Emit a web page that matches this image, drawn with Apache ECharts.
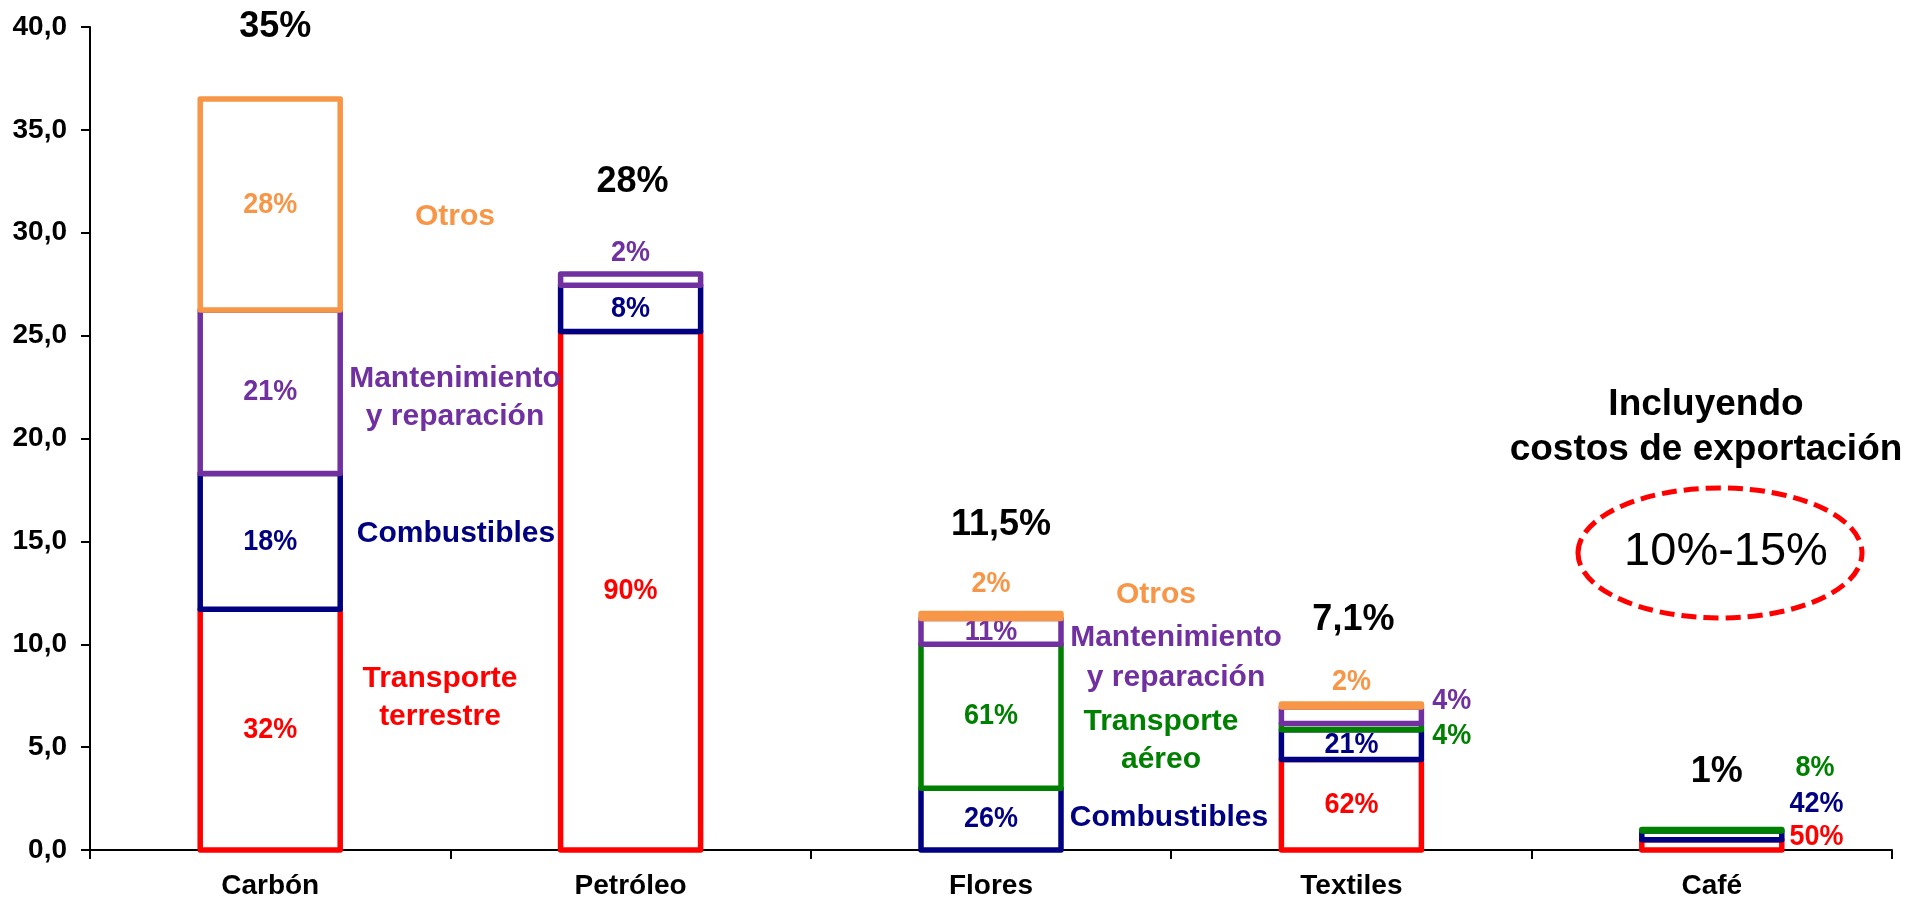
<!DOCTYPE html>
<html>
<head>
<meta charset="utf-8">
<title>Costos logísticos por producto</title>
<script src="https://cdn.jsdelivr.net/npm/echarts@6/dist/echarts.min.js"></script>
<style>
  html, body { margin: 0; padding: 0; background: #ffffff; }
  #chart { width: 1909px; height: 900px; }
</style>
</head>
<body>
<div id="chart"></div>
<script>
// Categories along the x axis
const categories = ['Carbón', 'Petróleo', 'Flores', 'Textiles', 'Café'];

// Stacked components (cost, % of product value); null = component absent
const transporteTerrestre = [11.7, 25.2, null, 4.4, 0.5];
const combustibles        = [6.6, 2.25, 3.0, 1.45, 0.42];
const transporteAereo     = [null, null, 7.0, 0.3, 0.08];
const mantenimiento       = [7.95, 0.55, 1.25, 0.8, null];
const otros               = [10.25, null, 0.25, 0.15, null];

// Share of each component within its product
const terrestreShare     = ['32%', '90%', null, '62%', '50%'];
const combustiblesShare  = ['18%', '8%', '26%', '21%', '42%'];
const aereoShare         = [null, null, '61%', '4%', '8%'];
const mantenimientoShare = ['21%', '2%', '11%', '4%', null];
const otrosShare         = ['28%', null, '2%', '2%', null];

// Headline figure above each bar
const totalLabels = ['35%', '28%', '11,5%', '7,1%', '1%'];

// Y axis scale
const yMin = 0, yMax = 40, yStep = 5;

// ---- styling ----
const FONT = '"Liberation Sans", Arial, sans-serif';
const RED = '#FF0000', NAVY = '#000080', GREEN = '#008000', PURPLE = '#7030A0', ORANGE = '#F79646';
const BAR_W = 140;
const BORDER = 5.5;
const SHARE_FONT = 'bold 27px ' + FONT;
const SHARE_STRETCH = 1.1;

// where each share label sits: inside the box, to its right, or above it
const IN = { pos: 'inside' };
const placeTerrestre = [IN, IN, null, IN, { pos: 'right', dist: 5, dy: -8 }];
const placeCombust   = [IN, IN, IN, IN, { pos: 'right', dist: 5, dy: -32 }];
const placeAereo     = [null, null, IN, { pos: 'right', dist: 8, dy: 9 }, { pos: 'right', dist: 11, dy: -62 }];
const placeMant      = [IN, { pos: 'top', dist: 3 }, IN, { pos: 'right', dist: 8, dy: -14 }, null];
const placeOtros     = [IN, null, { pos: 'top', dist: 12 }, { pos: 'top', dist: 5 }, null];
const totalOffsets   = [[5, -72], [2, -92], [10, -88], [2, -84], [5, -57]];

const components = [
  { name: 'Transporte terrestre', values: transporteTerrestre, shares: terrestreShare, color: RED, places: placeTerrestre },
  { name: 'Combustibles', values: combustibles, shares: combustiblesShare, color: NAVY, places: placeCombust },
  { name: 'Transporte aéreo', values: transporteAereo, shares: aereoShare, color: GREEN, places: placeAereo },
  { name: 'Mantenimiento y reparación', values: mantenimiento, shares: mantenimientoShare, color: PURPLE, places: placeMant },
  { name: 'Otros', values: otros, shares: otrosShare, color: ORANGE, places: placeOtros }
];

// running base of the stack for every category
const base = categories.map(() => 0);
const segmentSeries = components.map(comp => {
  const data = [];
  comp.values.forEach((v, i) => {
    if (v == null) return;
    data.push({ value: [i, base[i], base[i] + v], share: comp.shares[i], place: comp.places[i] });
    base[i] += v;
  });
  return {
    name: comp.name,
    type: 'custom',
    encode: { x: 0, y: [1, 2] },
    silent: true,
    data: data,
    renderItem: (params, api) => {
      const item = data[params.dataIndex];
      const i = api.value(0);
      const lo = api.coord([i, api.value(1)]);
      const hi = api.coord([i, api.value(2)]);
      const x0 = lo[0] - BAR_W / 2, x1 = lo[0] + BAR_W / 2;
      const children = [{
        type: 'rect',
        shape: { x: x0, y: hi[1], width: BAR_W, height: lo[1] - hi[1] },
        style: { fill: '#ffffff', stroke: comp.color, lineWidth: BORDER, lineJoin: 'round' }
      }];
      const p = item.place;
      if (item.share && p) {
        let tx, ty, align = 'center', valign = 'middle';
        if (p.pos === 'inside') {
          tx = lo[0]; ty = (lo[1] + hi[1]) / 2;
        } else if (p.pos === 'right') {
          tx = x1 + BORDER / 2 + p.dist; ty = (lo[1] + hi[1]) / 2 + p.dy; align = 'left';
        } else {
          tx = lo[0]; ty = hi[1] - BORDER / 2 - p.dist; valign = 'bottom';
        }
        children.push({
          type: 'text', x: tx, y: ty, scaleY: SHARE_STRETCH,
          style: { text: item.share, fill: comp.color, font: SHARE_FONT, textAlign: align, textVerticalAlign: valign }
        });
      }
      return { type: 'group', children: children };
    }
  };
});

// Headline figures anchored on top of each stack
const totalSeries = {
  name: 'Total',
  type: 'custom',
  silent: true,
  encode: { x: 0, y: 1 },
  data: categories.map((c, i) => [i, base[i]]),
  renderItem: (params, api) => {
    const k = params.dataIndex;
    const pt = api.coord([api.value(0), api.value(1)]);
    return {
      type: 'text',
      x: pt[0] + totalOffsets[k][0], y: pt[1] + totalOffsets[k][1],
      style: { text: totalLabels[k], fill: '#000000', font: 'bold 36px ' + FONT, textAlign: 'center', textVerticalAlign: 'middle' }
    };
  }
};

function nameText(x, y, text, color, lh) {
  return {
    type: 'text', x: x, y: y, z: 20,
    style: {
      text: text, fill: color, font: 'bold 30px ' + FONT,
      textAlign: 'center', textVerticalAlign: 'middle', lineHeight: lh || 38
    }
  };
}

const chart = echarts.init(document.getElementById('chart'), null, { renderer: 'canvas' });
chart.setOption({
  animation: false,
  backgroundColor: '#ffffff',
  grid: { left: 90, right: 17, top: 27, bottom: 50, containLabel: false },
  xAxis: {
    type: 'category',
    data: categories,
    axisLine: { show: true, lineStyle: { color: '#000000', width: 2 } },
    axisTick: { show: true, length: 9, lineStyle: { color: '#000000', width: 2 } },
    axisLabel: { color: '#000000', fontFamily: FONT, fontWeight: 'bold', fontSize: 28, margin: 22 },
    splitLine: { show: false }
  },
  yAxis: {
    type: 'value',
    min: yMin, max: yMax, interval: yStep,
    axisLine: { show: true, lineStyle: { color: '#000000', width: 2 } },
    axisTick: { show: true, length: 9, lineStyle: { color: '#000000', width: 2 } },
    axisLabel: {
      color: '#000000', fontFamily: FONT, fontWeight: 'bold', fontSize: 28, margin: 23,
      formatter: v => v.toFixed(1).replace('.', ',')
    },
    splitLine: { show: false }
  },
  series: segmentSeries.concat([totalSeries]),
  graphic: [
    // component names beside the Carbón bar
    nameText(455, 217, 'Otros', ORANGE),
    nameText(455, 398, 'Mantenimiento\ny reparación', PURPLE),
    nameText(456, 534, 'Combustibles', NAVY),
    nameText(440, 698, 'Transporte\nterrestre', RED),
    // component names beside the Flores bar
    nameText(1156, 595, 'Otros', ORANGE),
    nameText(1176, 658, 'Mantenimiento\ny reparación', PURPLE, 40),
    nameText(1161, 741, 'Transporte\naéreo', GREEN),
    nameText(1169, 818, 'Combustibles', NAVY),
    // export-cost note
    {
      type: 'text', x: 1706, y: 427, z: 20,
      style: {
        text: 'Incluyendo\ncostos de exportación', fill: '#000000',
        font: 'bold 37px ' + FONT, textAlign: 'center', textVerticalAlign: 'middle', lineHeight: 45
      }
    },
    {
      type: 'ellipse', z: 20,
      shape: { cx: 1720, cy: 553, rx: 142, ry: 65 },
      style: { fill: 'none', stroke: '#FF0000', lineWidth: 5, lineDash: [15, 7] }
    },
    {
      type: 'text', x: 1726, y: 552, z: 21,
      style: {
        text: '10%-15%', fill: '#000000', font: '47px ' + FONT,
        textAlign: 'center', textVerticalAlign: 'middle'
      }
    }
  ]
});
</script>
</body>
</html>
